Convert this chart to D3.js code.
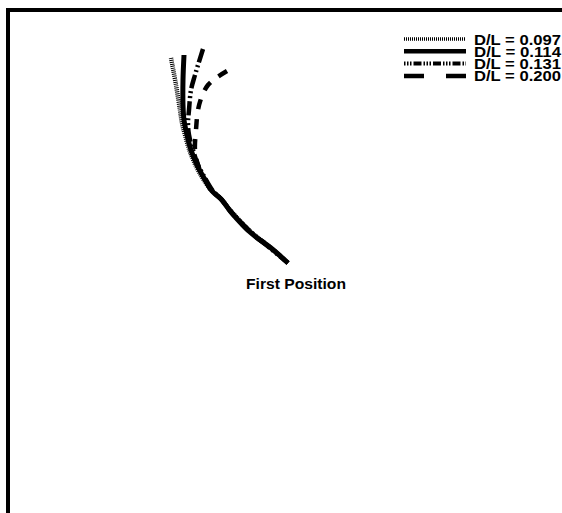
<!DOCTYPE html>
<html>
<head>
<meta charset="utf-8">
<script src="https://cdn.jsdelivr.net/npm/d3@7/dist/d3.min.js"></script>
<style>
  html, body { margin: 0; padding: 0; background: #fff; }
  svg { display: block; }
  text { font-family: "Liberation Sans", Arial, sans-serif; font-weight: bold; fill: #000; }
  .legend text { font-family: "Liberation Sans Narrow", "Liberation Sans", Arial, sans-serif; }
</style>
</head>
<body>
<svg id="chart" width="562" height="513"></svg>
<script>
// Trajectories of the body for four diameter-to-length ratios,
// positions in body lengths relative to the first position.
const seriesLabels = ["D/L = 0.097", "D/L = 0.114", "D/L = 0.131", "D/L = 0.200"];

const path097 = [[0,0],[-0.17,0.15],[-0.37,0.31],[-0.57,0.52],[-0.68,0.65],[-0.77,0.73],[-0.86,0.86],[-0.93,0.99],[-0.99,1.14],[-1.03,1.28],[-1.06,1.40],[-1.08,1.53],[-1.12,1.78],[-1.17,2.05]];
const path114 = [[0,0],[-0.17,0.15],[-0.37,0.30],[-0.57,0.51],[-0.67,0.64],[-0.76,0.72],[-0.84,0.85],[-0.91,0.98],[-0.97,1.13],[-1.01,1.28],[-1.04,1.43],[-1.05,1.58],[-1.05,1.83],[-1.04,2.08]];
const path131 = [[0,0],[-0.17,0.14],[-0.36,0.30],[-0.56,0.50],[-0.66,0.63],[-0.75,0.72],[-0.83,0.85],[-0.90,0.98],[-0.95,1.13],[-0.99,1.28],[-1.00,1.40],[-0.99,1.53],[-0.97,1.73],[-0.93,1.88],[-0.85,2.14]];
const path200 = [[0,0],[-0.17,0.15],[-0.37,0.30],[-0.57,0.51],[-0.67,0.64],[-0.76,0.72],[-0.84,0.85],[-0.90,0.98],[-0.93,1.13],[-0.92,1.33],[-0.90,1.53],[-0.86,1.67],[-0.80,1.78],[-0.72,1.85],[-0.61,1.92]];

const startLabel = "First Position";

const svg = d3.select("#chart");
const W = 562, H = 513;

const x = d3.scaleLinear().domain([-2.8, 2.75]).range([8, 563]);
const y = d3.scaleLinear().domain([-2.5, 2.53]).range([513, 10]);

// Frame
svg.append("path")
  .attr("d", `M8,${H + 5} L8,10 L${W + 5},10`)
  .attr("fill", "none")
  .attr("stroke", "#000")
  .attr("stroke-width", 4);

const styles = [
  { dash: "1,1", width: 4.5, lw: 3.5, ldash: "1,1" },
  { dash: null, width: 5, lw: 4.5, ldash: null },
  { dash: "14,3,2,3,2,3", width: 4.5, lw: 4, ldash: "1.5,1.5,1.5,1.5,1.5,2,8,2" },
  { dash: "10,10", width: 4.5, lw: 4.5, ldash: "20,22" }
];
const paths = [path097, path114, path131, path200];

const line = d3.line()
  .x(d => x(d[0]))
  .y(d => y(d[1]))
  .curve(d3.curveCatmullRom.alpha(0.5));

// Dashed tracks are stroked from their far end so the pattern starts there.
paths.forEach((p, i) => {
  svg.append("path")
    .datum(styles[i].dash ? p.slice().reverse() : p)
    .attr("d", line)
    .attr("fill", "none")
    .attr("stroke", "#000")
    .attr("stroke-width", styles[i].width)
    .attr("stroke-dasharray", styles[i].dash)
    .attr("stroke-linecap", "butt");
});

// Start label
svg.append("text")
  .attr("x", 296)
  .attr("y", y(0) + 26)
  .attr("text-anchor", "middle")
  .attr("font-size", 15)
  .attr("textLength", 100)
  .attr("lengthAdjust", "spacingAndGlyphs")
  .text(startLabel);

// Legend
const legend = svg.append("g").attr("class", "legend").attr("transform", "translate(404,39)");
seriesLabels.forEach((lab, i) => {
  const g = legend.append("g").attr("transform", `translate(0,${i * 12.3})`);
  g.append("line")
    .attr("x1", 0).attr("x2", 62)
    .attr("y1", 0).attr("y2", 0)
    .attr("stroke", "#000")
    .attr("stroke-width", styles[i].lw)
    .attr("stroke-dasharray", styles[i].ldash);
  g.append("text")
    .attr("x", 70)
    .attr("y", 5.5)
    .attr("font-size", 15)
    .attr("textLength", 87)
    .attr("lengthAdjust", "spacingAndGlyphs")
    .text(lab);
});
</script>
</body>
</html>
